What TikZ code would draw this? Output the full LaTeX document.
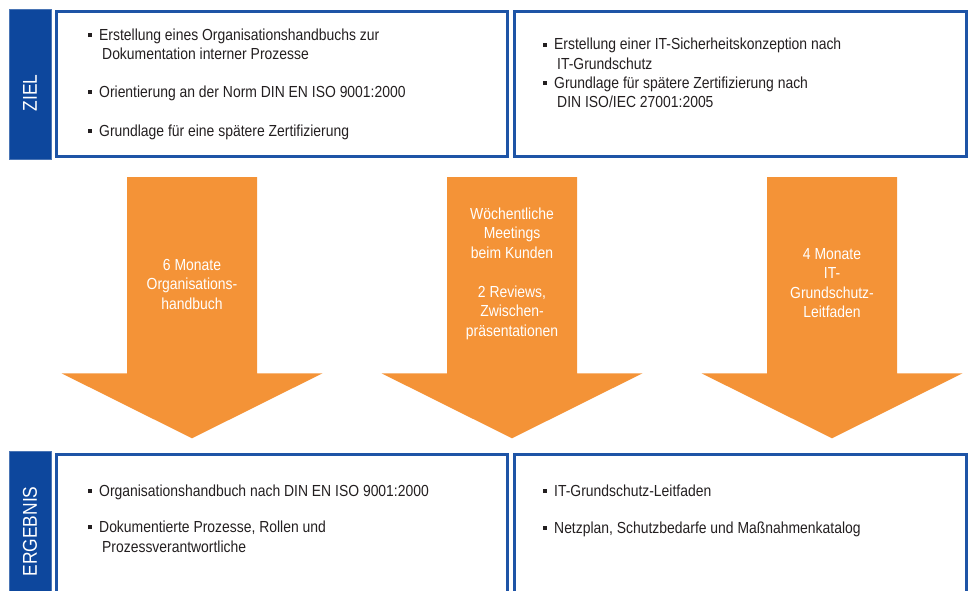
\documentclass[tikz,border=0pt]{standalone}
\usepackage{fontspec}
\setmainfont[FakeStretch=0.87]{Liberation Sans}
\definecolor{zielblau}{RGB}{30,84,166}
\definecolor{balkenblau}{RGB}{13,71,157}
\definecolor{pfeilorange}{RGB}{244,147,55}
\definecolor{schrift}{RGB}{35,31,32}
\newcommand\bul{\llap{\raisebox{3.4pt}{\rule{4pt}{4pt}}\hspace{7pt}}}
\newcommand\fz{\hspace*{3pt}}

\begin{document}
\begin{tikzpicture}[x=1pt,y=-1pt,
                    kasten/.style={draw=zielblau,line width=3pt},
                    balken/.style={fill=balkenblau,draw=balkenblau!75!white,line width=0.6pt},
                    balkentext/.style={rotate=90,text=white,inner sep=0pt,font=\fontsize{20}{24}\selectfont},
                    punkt/.style={anchor=base west,inner sep=0pt,align=left,text=schrift,font=\fontsize{16}{19.5}\selectfont},
                    pfeiltext/.style={anchor=base,inner sep=0pt,align=center,text=white,font=\fontsize{16}{19.5}\selectfont}]
  \useasboundingbox (0,0) rectangle (969,591);
  \clip (0,0) rectangle (969,591);

  % Ziel (base = Grundlinie der letzten Zeile)
  \fill[balken] (9,9.5) rectangle (51,159);
  \node[balkentext] (ziel) at (30,93) {ZIEL};
  \draw[kasten] (56.3,11.3) rectangle (507,156.5);
  \draw[kasten] (514,11.3) rectangle (966.5,156.5);

  \node[punkt] (zl1) at (99,60)    {\bul Erstellung eines Organisationshandbuchs zur\\\fz Dokumentation interner Prozesse};
  \node[punkt] (zl2) at (99,97.5)  {\bul Orientierung an der Norm DIN EN ISO 9001:2000};
  \node[punkt] (zl3) at (99,136.5) {\bul Grundlage für eine spätere Zertifizierung};

  \node[punkt] (zr1) at (554,69.5) {\bul Erstellung einer IT-Sicherheitskonzeption nach\\\fz IT-Grundschutz};
  \node[punkt] (zr2) at (554,108)  {\bul Grundlage für spätere Zertifizierung nach\\\fz DIN ISO/IEC 27001:2005};

  % Pfeile
  \foreach \cx in {192,512,832}
    \fill[pfeilorange] ({\cx-65},177) -- ({\cx+65},177) -- ({\cx+65},373.3) -- ({\cx+130.5},373.3)
      -- (\cx,438.3) -- ({\cx-130.5},373.3) -- ({\cx-65},373.3) -- cycle;

  \node[pfeiltext] (p1) at (192,309)   {6 Monate\\Organisations-\\handbuch};
  \node[pfeiltext] (p2) at (512,336)   {Wöchentliche\\Meetings\\beim Kunden\\[19.5pt]2 Reviews,\\Zwischen-\\präsentationen};
  \node[pfeiltext] (p3) at (832,317.8) {4 Monate\\IT-\\Grundschutz-\\Leitfaden};

  % Ergebnis
  \fill[balken] (9,451.7) rectangle (51,600);
  \node[balkentext] (ergebnis) at (30,531.5) {ERGEBNIS};
  \draw[kasten] (56.3,454.2) rectangle (507,620);
  \draw[kasten] (514,454.2) rectangle (966.5,620);

  \node[punkt] (el1) at (99,496.5) {\bul Organisationshandbuch nach DIN EN ISO 9001:2000};
  \node[punkt] (el2) at (99,552.3) {\bul Dokumentierte Prozesse, Rollen und\\\fz Prozessverantwortliche};

  \node[punkt] (er1) at (554,496.5) {\bul IT-Grundschutz-Leitfaden};
  \node[punkt] (er2) at (554,533.3) {\bul Netzplan, Schutzbedarfe und Maßnahmenkatalog};
\end{tikzpicture}
\end{document}
